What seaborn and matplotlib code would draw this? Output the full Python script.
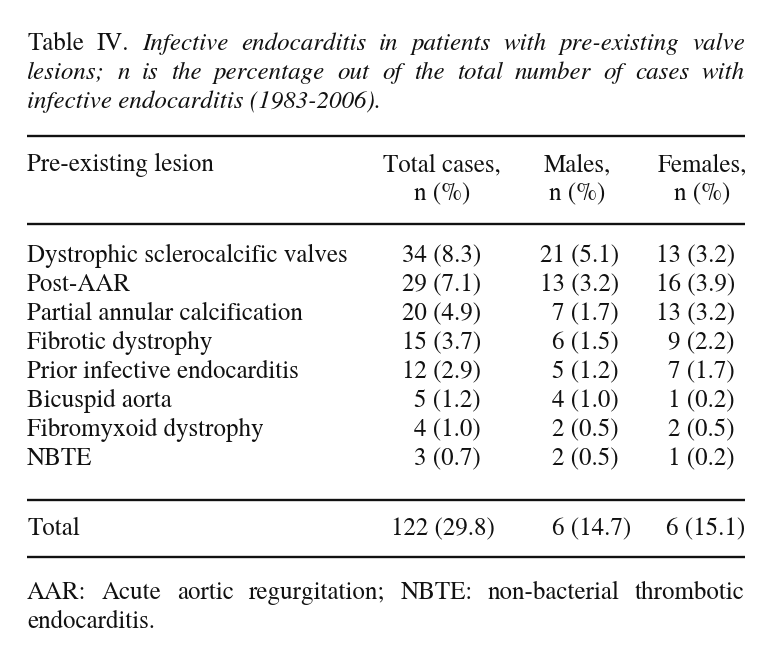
import numpy as np
import pandas as pd
import seaborn as sns
import matplotlib.pyplot as plt

# table values
lesions = ["Dystrophic sclerocalcific valves", "Post-AAR", "Partial annular calcification",
           "Fibrotic dystrophy", "Prior infective endocarditis", "Bicuspid aorta",
           "Fibromyxoid dystrophy", "NBTE"]
total_n = [34, 29, 20, 15, 12, 5, 4, 3]
total_pct = [8.3, 7.1, 4.9, 3.7, 2.9, 1.2, 1.0, 0.7]
males_n = [21, 13, 7, 6, 5, 4, 2, 2]
males_pct = [5.1, 3.2, 1.7, 1.5, 1.2, 1.0, 0.5, 0.5]
females_n = [13, 16, 13, 9, 7, 1, 2, 1]
females_pct = [3.2, 3.9, 3.2, 2.2, 1.7, 0.2, 0.5, 0.2]
sum_n = [122, 6, 6]
sum_pct = [29.8, 14.7, 15.1]
col_heads = [("Total cases,", "n (%)"), ("Males,", "n (%)"), ("Females,", "n (%)")]

caption = [
    [("Table", "normal"), ("IV.", "normal")] + [(w, "italic") for w in
        "Infective endocarditis in patients with pre-existing valve".split()],
    [(w, "italic") for w in "lesions; n is the percentage out of the total number of cases with".split()],
]
caption_last = "infective endocarditis (1983-2006)."
footnote = ["AAR: Acute aortic regurgitation; NBTE: non-bacterial thrombotic", "endocarditis."]

df = pd.DataFrame({
    "lesion": lesions,
    "total": [f"{n} ({p:.1f})" for n, p in zip(total_n, total_pct)],
    "males": [f"{n} ({p:.1f})" for n, p in zip(males_n, males_pct)],
    "females": [f"{n} ({p:.1f})" for n, p in zip(females_n, females_pct)],
})

sns.set_theme(style="white")
plt.rcParams['font.family'] = ['TeX Gyre Termes', 'FreeSerif', 'STIXGeneral', 'DejaVu Serif']
FS = 18.0
INK = "#111111"

fig = plt.figure(figsize=(7.57, 6.61), dpi=100)
ax = fig.add_axes([0, 0, 1, 1])
ax.set_xlim(0, 757)
ax.set_ylim(661, 0)
ax.axis("off")
renderer = fig.canvas.get_renderer()
L, R = 27, 745


def justify(words, y, x0=L, x1=R):
    texts = [ax.text(0, y, w, fontsize=FS, style=s, color=INK, va="baseline") for w, s in words]
    widths = [t.get_window_extent(renderer).width for t in texts]
    gap = (x1 - x0 - sum(widths)) / (len(texts) - 1)
    x = x0
    for t, w in zip(texts, widths):
        t.set_x(x)
        x += w + gap


# caption
justify(caption[0], 50)
justify(caption[1], 79)
ax.text(L, 108, caption_last, fontsize=FS, style="italic", color=INK, va="baseline")

# rules
for y in [136, 224, 500, 557]:
    ax.hlines(y, L, R, color=INK, lw=1.7)

# header
ax.text(L, 171, "Pre-existing lesion", fontsize=FS, color=INK, va="baseline")
for (h1, h2), xc in zip(col_heads, [442, 577, 702]):
    ax.text(xc, 171, h1, fontsize=FS, color=INK, va="baseline", ha="center")
    ax.text(xc, 200, h2, fontsize=FS, color=INK, va="baseline", ha="center")

# body
for i, row in df.iterrows():
    y = 262 + 29 * i
    ax.text(L, y, row["lesion"], fontsize=FS, color=INK, va="baseline")
    for col, xr in zip(["total", "males", "females"], [481, 619, 735]):
        ax.text(xr, y, row[col], fontsize=FS, color=INK, va="baseline", ha="right")

# total row
ax.text(L, 535, "Total", fontsize=FS, color=INK, va="baseline")
for n, p, xr in zip(sum_n, sum_pct, [495, 631, 745]):
    ax.text(xr, 535, f"{n} ({p:.1f})", fontsize=FS, color=INK, va="baseline", ha="right")

# footnote
justify([(w, "normal") for w in footnote[0].split()], 599)
ax.text(L, 628, footnote[1], fontsize=FS, color=INK, va="baseline")

fig.savefig("out.png", dpi=100, facecolor="white")
